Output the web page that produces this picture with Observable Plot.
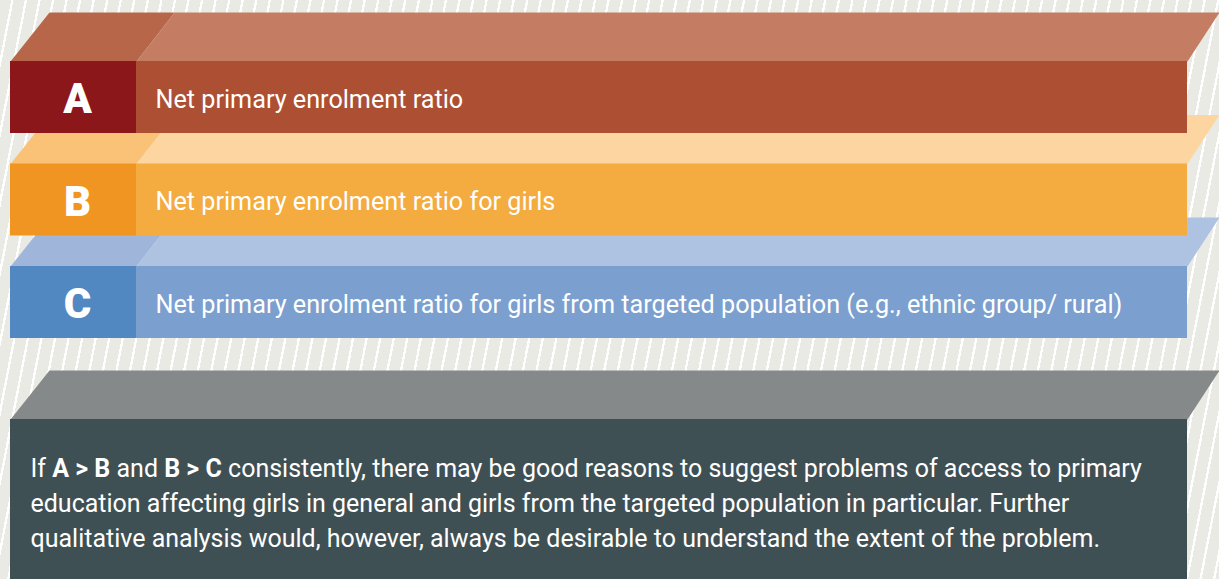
<!DOCTYPE html>
<html><head><meta charset="utf-8">
<script src="https://cdn.jsdelivr.net/npm/d3@7"></script>
<script src="https://cdn.jsdelivr.net/npm/@observablehq/plot@0.6"></script>
<style>
html,body{margin:0;padding:0;width:1219px;height:579px;overflow:hidden;}
body{background-color:#EAEAE5;background-image:repeating-linear-gradient(101deg, rgba(255,255,255,0) 0px, rgba(255,255,255,0) 11px, #ffffff 11px, #ffffff 13.3px);}
svg{display:block;}
</style></head><body><div id="chart"></div>
<script>
// ---- data ----
const codes = ["A", "B", "C"];
const labels = [
  "Net primary enrolment ratio",
  "Net primary enrolment ratio for girls",
  "Net primary enrolment ratio for girls from targeted population (e.g., ethnic group/ rural)"
];
const codeColors = ["#8C171B", "#F19522", "#5288C1"];
const frontColors = ["#AD4F32", "#F4AB3F", "#7BA0CF"];
const topCodeColors = ["#B8664A", "#F9C276", "#A0B5DA"];
const topLabelColors = ["#C47D63", "#FDD5A1", "#AEC2E2"];
const noteColors = {top: "#86898A", front: "#3F5054"};
const noteLines = [
  "If A > B and B > C consistently, there may be good reasons to suggest problems of access to primary",
  "education affecting girls in general and girls from the targeted population in particular. Further",
  "qualitative analysis would, however, always be desirable to understand the extent of the problem."
];
const boldParts = ["A > B", "B > C"];

// ---- layout ----
const W = 1219, H = 579;
const left = 10, split = 136, right = 1187;
const row0 = 61, rowStep = 102.5, rowH = 72, depth = 49;
const slantL = 39, slantR = 32;
const slant = x => slantL + (slantR - slantL) * (x - left) / (right - left);
const noteTop = 419;
const font = "Roboto";
const noteSize = 25;

const rows = codes.map((c, i) => ({
  i, code: c, label: labels[i], top: row0 + i * rowStep
}));

function quad(id, color, xa, xb, yFront) {
  return [
    {id, color, x: xa, y: yFront},
    {id, color, x: xb, y: yFront},
    {id, color, x: xb + slant(xb), y: yFront - depth},
    {id, color, x: xa + slant(xa), y: yFront - depth}
  ];
}
const tops = [];
rows.forEach(r => {
  tops.push(...quad("tc" + r.i, topCodeColors[r.i], left, split, r.top));
  tops.push(...quad("tl" + r.i, topLabelColors[r.i], split, right, r.top));
});
tops.push(...quad("nt", noteColors.top, left, right, noteTop));

const fronts = [];
rows.forEach(r => {
  fronts.push({x1: left, x2: split, y1: r.top, y2: r.top + rowH, color: codeColors[r.i]});
  fronts.push({x1: split, x2: right, y1: r.top, y2: r.top + rowH, color: frontColors[r.i]});
});
fronts.push({x1: left, x2: right, y1: noteTop, y2: H, color: noteColors.front});

const noteData = noteLines.map((t, i) => ({t, y: 476 + i * 35 - noteSize * 0.32}));

const chart = Plot.plot({
  width: W, height: H, margin: 0,
  x: {domain: [0, W], range: [0, W], axis: null},
  y: {domain: [0, H], range: [0, H], axis: null},
  color: {type: "identity"},
  style: {background: "transparent", fontFamily: font},
  marks: [
    Plot.line(tops, {x: "x", y: "y", z: "id", fill: "color", stroke: "none"}),
    Plot.rect(fronts, {x1: "x1", x2: "x2", y1: "y1", y2: "y2", fill: "color"}),
    Plot.text(rows, {x: (left + split) / 2 + 4, y: r => r.top + 38.5, text: "code", fill: "white",
      fontSize: 42, fontWeight: 900, fontFamily: font}),
    Plot.text(rows, {x: 155, y: r => r.top + 38, text: "label", fill: "white",
      fontSize: 25.2, textAnchor: "start", fontFamily: font}),
    Plot.text(noteData, {x: 30, y: "y", text: "t", fill: "white", fontSize: noteSize,
      textAnchor: "start", fontFamily: font})
  ]
});
document.getElementById("chart").append(chart);

// bold the comparison parts of the note's first line
d3.select(chart).selectAll("text").each(function() {
  const el = d3.select(this);
  const s = el.text();
  if (s !== noteLines[0]) return;
  el.text(null);
  const re = new RegExp("(" + boldParts.map(b => b.replace(/[.*+?^${}()|[\]\\]/g, "\\$&")).join("|") + ")");
  s.split(re).forEach(part => {
    if (!part) return;
    const t = el.append("tspan").text(part);
    if (boldParts.includes(part)) t.attr("font-weight", "bold");
  });
});
</script></body></html>
